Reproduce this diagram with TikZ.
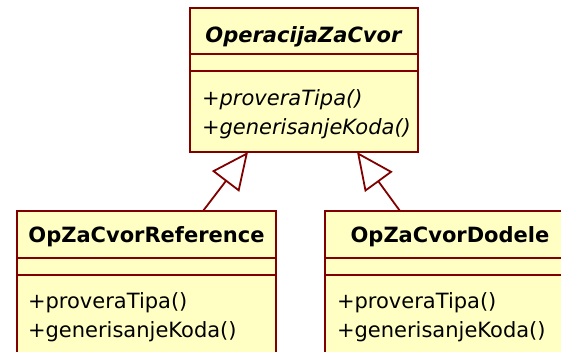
\documentclass[tikz,border=0pt]{standalone}
\usepackage{fontspec}
\setmainfont{DejaVu Sans}
\usetikzlibrary{positioning,arrows.meta}
\definecolor{umlline}{HTML}{800000}
\definecolor{umlfill}{HTML}{FFFFC4}
\hyphenpenalty=10000

\begin{document}
\begin{tikzpicture}[x=1pt, y=-1pt,
  every node/.style={font=\fontsize{21}{29}\selectfont},
  umlpart/.style={draw=umlline, fill=umlfill, line width=2pt, outer sep=0pt, inner sep=0pt, minimum width=#1},
  clsname/.style={umlpart=#1},
  attrs/.style={umlpart=#1, minimum height=17pt},
  ops/.style={umlpart=#1, align=left},
  gen/.style={draw=umlline, line width=1.8pt, -{Triangle[open, length=37pt, width=34pt, line width=1.8pt]}},
]
\path[use as bounding box] (0,0) rectangle (561,352);
\clip (0,0) rectangle (561,352);

% ---------------- abstract base class ----------------
\node[clsname=228pt, text height=35pt, text depth=11pt] (opName) at (304,31) {\textbf{\textit{OperacijaZaCvor}}};
\node[attrs=228pt, below=0pt of opName] (opAttr) {};
\node[ops=228pt, text width=204pt, inner xsep=12pt, text height=35pt, text depth=46pt, below=0pt of opAttr] (opOps)
  {\textit{+proveraTipa()} \\ \textit{+generisanjeKoda()}};

% ---------------- subclasses ----------------
\node[clsname=259pt, text height=32pt, text depth=15pt] (refName) at (146.5,234.5) {\textbf{OpZaCvorReference}};
\node[attrs=259pt, below=0pt of refName] (refAttr) {};
\node[ops=259pt, text width=237pt, inner xsep=11pt, text height=33pt, text depth=52pt, below=0pt of refAttr] (refOps)
  {+proveraTipa() \\ +generisanjeKoda()};

\node[clsname=250pt, text height=32pt, text depth=15pt] (dodName) at (450,234.5) {\textbf{OpZaCvorDodele}};
\node[attrs=250pt, below=0pt of dodName] (dodAttr) {};
\node[ops=250pt, text width=226pt, inner xsep=12pt, text height=33pt, text depth=52pt, below=0pt of dodAttr] (dodOps)
  {+proveraTipa() \\ +generisanjeKoda()};

% ---------------- generalization ----------------
\draw[gen] ([xshift=56.5pt]refName.north) -- ([xshift=-56pt]opOps.south);
\draw[gen] ([xshift=-50pt]dodName.north) -- ([xshift=53pt]opOps.south);
\end{tikzpicture}
\end{document}
